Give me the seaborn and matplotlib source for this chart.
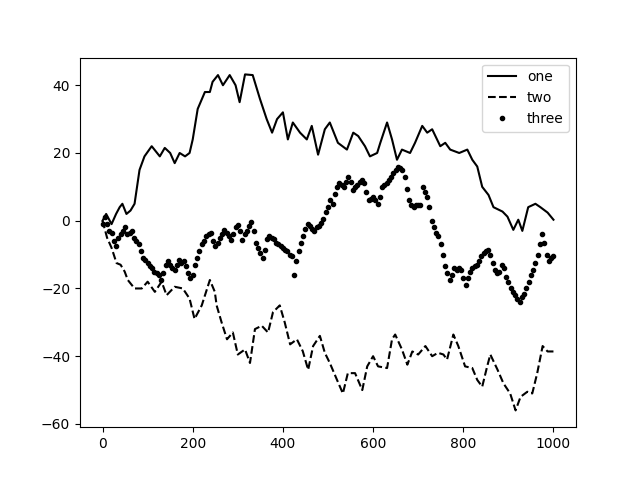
import matplotlib
matplotlib.use("Agg")
import matplotlib.pyplot as plt
import seaborn as sns

# values
ONE_X = [0, 8, 20, 30, 38, 44, 53, 62, 71, 82, 93, 109, 127, 138, 150, 160, 171, 183, 193,
         200, 211, 227, 238, 244, 256, 267, 282, 295, 304, 316, 333, 349, 364, 376, 387,
         400, 411, 422, 438, 453, 464, 478, 493, 504, 522, 542, 556, 567, 582, 593, 609,
         616, 631, 642, 653, 664, 682, 693, 709, 720, 731, 749, 760, 771, 791, 809, 820,
         831, 842, 856, 867, 887, 898, 911, 922, 931, 944, 960, 971, 987, 1000]
ONE_Y = [0, 2, -1, 2, 4, 5, 2, 3, 5, 15, 19, 22, 19, 21.5, 20, 17, 20, 19, 20,
         24, 33, 38, 38, 41, 43, 40, 43, 40, 35, 43.2, 43, 36, 30, 26, 30,
         32, 24, 29, 26, 24, 28, 19.5, 27, 29, 23, 21, 26, 25, 22, 19, 20,
         23, 29, 24, 18, 21, 20, 23, 28, 26, 27, 22, 23, 21, 20, 21, 18,
         16, 10, 7.6, 4, 2.7, 1.2, -2.7, 0.3, -3, 4, 5, 4, 2.4, 0.3]

TWO_X = [0, 10, 20, 31, 40, 49, 56, 71, 87, 100, 116, 131, 142, 160, 178, 193, 204, 220,
         238, 249, 253, 264, 276, 289, 300, 316, 327, 338, 353, 367, 378, 393, 404, 416,
         431, 444, 456, 467, 482, 493, 504, 520, 533, 544, 560, 576, 587, 600, 611, 631,
         642, 649, 664, 676, 687, 700, 716, 731, 744, 756, 764, 778, 789, 804, 820, 831,
         842, 853, 860, 876, 889, 904, 916, 927, 942, 953, 964, 976, 987, 1000]
TWO_Y = [0, -5, -8, -12.5, -13, -15, -17.5, -20, -20, -18, -21, -18, -22, -19.5, -20, -23, -29, -25,
         -17.5, -21, -25, -30, -35, -33, -39.5, -38, -42, -32, -31, -33, -27, -25, -30, -36.5,
         -35, -38.5, -44, -37, -34, -39, -42, -47, -51, -45, -45, -50, -43, -40, -43, -43.5,
         -35, -33.6, -38, -42.5, -38.6, -39.5, -37, -40, -39, -39.5, -41, -33.6, -37, -43, -43.5, -47,
         -49, -43, -39.5, -44, -48, -51, -56, -52, -50.5, -51, -45, -37, -38.6, -38.6]

THREE_X = list(range(0, 1001, 5))
THREE_Y = [
    -1, 1, -1, -3, -3.5, -6, -7.5, -5, -4, -3, -2, -4, -3.5, -3, -5, -6, -7, -9, -11, -11.5,
    -12.5, -13.5, -14, -15, -15.5, -16, -17.5, -15.5, -13, -12, -13, -14, -14.5, -13, -11.5, -12.5, -12, -13.5, -15.5, -17,
    -16, -13, -11, -9, -7, -6, -4.5, -4, -3.5, -6, -7.5, -6.5, -5, -4, -2.7, -3.5, -4.5, -5.6, -4, -2,
    -1.2, -3, -5.6, -4, -3, -1.5, -0.3, -3, -6.5, -8, -9.5, -11, -8.5, -5.5, -4.6, -5, -5.5, -6.5, -7, -7.5,
    -8, -8.6, -9, -10, -10.5, -16, -12, -9, -6.5, -4.6, -2.5, -1, -1.5, -2.5, -3, -2, -1.5, -0.7, 0.5, 2.5,
    4, 6, 5, 8, 10, 11, 10.5, 10, 11.5, 13, 11.5, 9, 10, 10.5, 11.5, 12, 11, 8.5, 6, 6.5,
    7, 6, 5, 7, 10, 10.5, 11, 12, 13, 14, 15, 16, 15.5, 15, 13, 9.5, 6, 4.5, 4, 4.5,
    4.5, 4.5, 10, 8.5, 7, 4, 0, -2, -3.5, -4.5, -7, -10, -13.5, -15.5, -17.5, -16, -14, -14.5, -14, -14.5,
    -17, -19, -17, -15, -14, -13.5, -13, -12, -10.5, -9.5, -9, -8.6, -10, -12.5, -14.5, -15.5, -15, -13, -14, -16.5,
    -18, -20, -21, -22, -23, -24, -22.5, -21.5, -20, -18, -16, -14.5, -12.5, -10, -7, -4, -6.5, -10, -12, -11,
    -10.5,
]

fig, ax = plt.subplots(figsize=(6.4, 4.8), dpi=100)

sns.lineplot(x=ONE_X, y=ONE_Y, color="k", linestyle="-", linewidth=1.5,
             sort=False, estimator=None, label="one", ax=ax)
sns.lineplot(x=TWO_X, y=TWO_Y, color="k", linestyle="--", linewidth=1.5,
             sort=False, estimator=None, label="two", ax=ax)
sns.lineplot(x=THREE_X, y=THREE_Y, color="k", linestyle="", marker=".",
             markersize=6, markeredgecolor="k", markeredgewidth=1.0,
             sort=False, estimator=None, label="three", ax=ax)

ax.set_xlabel("")
ax.set_ylabel("")
ax.set_xticks([0, 200, 400, 600, 800, 1000])
ax.set_yticks([-60, -40, -20, 0, 20, 40])
ax.legend(loc="upper right")

fig.savefig("out.png", dpi=100)
